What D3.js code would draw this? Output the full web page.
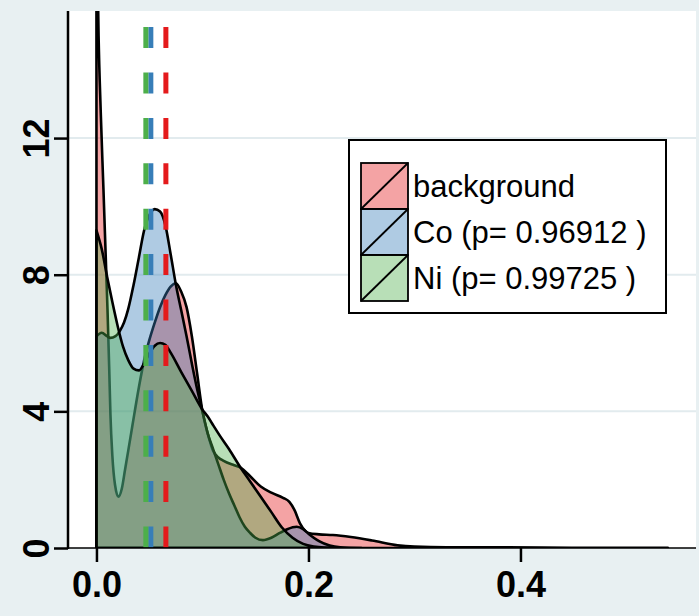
<!DOCTYPE html>
<html>
<head>
<meta charset="utf-8">
<script src="https://cdn.jsdelivr.net/npm/d3@7"></script>
<style>
  html, body { margin: 0; padding: 0; background: #e8f0f2; }
  svg { display: block; }
  text { font-family: "Liberation Sans", Arial, Helvetica, sans-serif; }
</style>
</head>
<body>
<script>
// ---- data ----
const seriesNames = ["background", "Co (p= 0.96912 )", "Ni (p= 0.99725 )"];
const seriesColors = ["#e41a1c", "#377eb8", "#4daf4a"];

const backgroundDensity = [
  [0, 19], [0.002, 15.0], [0.004, 12.8], [0.0066, 10.5], [0.009, 8.3], [0.0104, 7.0],
  [0.012, 5.3], [0.0132, 3.9], [0.015, 2.7], [0.0175, 1.85], [0.0207, 1.5], [0.024, 1.75],
  [0.027, 2.3], [0.03, 2.85], [0.034, 3.6], [0.04, 4.7], [0.045, 5.5], [0.05, 6.1],
  [0.055, 6.6], [0.06, 7.05], [0.065, 7.4], [0.07, 7.65], [0.075, 7.75], [0.08, 7.5],
  [0.085, 7.05], [0.09, 6.2], [0.095, 5.1], [0.1, 4.0], [0.105, 3.35], [0.11, 2.85],
  [0.115, 2.65], [0.12, 2.55], [0.13, 2.42], [0.136, 2.35], [0.145, 2.1], [0.155, 1.8],
  [0.165, 1.62], [0.176, 1.47], [0.182, 1.35], [0.187, 1.1], [0.192, 0.72], [0.197, 0.5],
  [0.2, 0.44], [0.21, 0.4], [0.223, 0.38], [0.24, 0.32], [0.26, 0.22], [0.284, 0.08],
  [0.3, 0.04], [0.33, 0.02], [0.38, 0.02], [0.45, 0.008], [0.539, 0.004]
];
const coDensity = [
  [0, 6.2], [0.005, 6.3], [0.01, 6.2], [0.013, 6.15], [0.018, 6.2], [0.022, 6.35],
  [0.026, 6.6], [0.03, 7.0], [0.035, 7.7], [0.04, 8.5], [0.045, 9.3], [0.05, 9.75],
  [0.055, 9.92], [0.06, 9.85], [0.065, 9.45], [0.07, 8.6], [0.075, 7.7], [0.08, 6.95],
  [0.085, 6.2], [0.09, 5.4], [0.095, 4.65], [0.1, 4.0], [0.105, 3.35], [0.11, 2.9],
  [0.115, 2.45], [0.12, 2.0], [0.125, 1.6], [0.13, 1.25], [0.135, 0.9], [0.14, 0.62],
  [0.145, 0.44], [0.15, 0.3], [0.157, 0.23], [0.165, 0.3], [0.173, 0.44], [0.18, 0.55],
  [0.189, 0.62], [0.195, 0.55], [0.2, 0.42], [0.21, 0.2], [0.22, 0.07], [0.23, 0.02], [0.25, 0]
];
const niDensity = [
  [0, 9.3], [0.005, 8.75], [0.01, 7.95], [0.015, 7.2], [0.02, 6.5], [0.025, 5.9],
  [0.03, 5.5], [0.035, 5.25], [0.04, 5.2], [0.045, 5.4], [0.05, 5.7], [0.055, 5.92],
  [0.06, 6.0], [0.065, 5.95], [0.07, 5.72], [0.08, 5.15], [0.09, 4.6], [0.1, 4.05],
  [0.105, 3.85], [0.11, 3.6], [0.117, 3.26], [0.125, 2.9], [0.136, 2.35], [0.145, 1.95],
  [0.155, 1.5], [0.165, 1.05], [0.175, 0.6], [0.185, 0.3], [0.195, 0.12], [0.205, 0.04],
  [0.215, 0.01], [0.23, 0]
];
const meanValues = [0.0655, 0.0513, 0.0466]; // background, Co, Ni
const xTicks = [0, 0.2, 0.4];
const yTicks = [0, 4, 8, 12];

// ---- layout ----
const W = 699, H = 616;
const plot = { left: 69, right: 696, top: 11, bottom: 548 };

const svg = d3.select("body").append("svg").attr("width", W).attr("height", H);
svg.append("rect").attr("width", W).attr("height", H).attr("fill", "#e8f0f2");
svg.append("rect").attr("x", plot.left).attr("y", plot.top)
  .attr("width", plot.right - plot.left).attr("height", plot.bottom - plot.top)
  .attr("fill", "#ffffff");

const x = d3.scaleLinear().domain([-0.0259, 0.5656]).range([plot.left, plot.right]);
const y = d3.scaleLinear().domain([0, 15.72]).range([plot.bottom, plot.top]);

// grid
svg.append("g").selectAll("line").data(yTicks.filter(d => d > 0)).join("line")
  .attr("x1", plot.left).attr("x2", plot.right)
  .attr("y1", d => y(d)).attr("y2", d => y(d))
  .attr("stroke", "#e2ebee").attr("stroke-width", 2);

// clip
svg.append("clipPath").attr("id", "clip").append("rect")
  .attr("x", plot.left).attr("y", plot.top)
  .attr("width", plot.right - plot.left).attr("height", plot.bottom - plot.top);

const area = d3.area()
  .x(d => x(d[0])).y0(y(0)).y1(d => y(d[1]))
  .curve(d3.curveMonotoneX);

const gAreas = svg.append("g").attr("clip-path", "url(#clip)");
[backgroundDensity, coDensity, niDensity].forEach((data, i) => {
  gAreas.append("path").datum(data)
    .attr("d", area)
    .attr("fill", seriesColors[i]).attr("fill-opacity", 0.4)
    .attr("stroke", "#000").attr("stroke-width", 2.6)
    .attr("stroke-linejoin", "round");
});

// mean lines
svg.append("g").selectAll("line").data(meanValues).join("line")
  .attr("x1", d => x(d)).attr("x2", d => x(d))
  .attr("y1", plot.bottom - 0.5).attr("y2", plot.top)
  .attr("stroke", (d, i) => seriesColors[i])
  .attr("stroke-width", 5)
  .attr("stroke-dasharray", "21,24.4");

// axes
const yAxis = svg.append("g").attr("transform", `translate(${plot.left - 1},0)`)
  .call(d3.axisLeft(y).tickValues(yTicks).tickSize(14).tickSizeOuter(0).tickFormat(d3.format("d")));
yAxis.select(".domain").attr("stroke", "#000").attr("stroke-width", 2.5)
  .attr("d", `M0,${plot.top}V${plot.bottom + 1}`);
yAxis.selectAll(".tick line").attr("stroke", "#000").attr("stroke-width", 2.5);
yAxis.selectAll(".tick text")
  .attr("x", 0).attr("y", -19).attr("dy", 0)
  .attr("transform", "rotate(-90)")
  .attr("text-anchor", "middle")
  .attr("fill", "#000")
  .style("font-size", "36px").style("font-weight", "bold")
  .style("font-family", '"Liberation Sans", Arial, sans-serif');

const xAxis = svg.append("g").attr("transform", `translate(0,${plot.bottom})`)
  .call(d3.axisBottom(x).tickValues(xTicks).tickSize(14).tickSizeOuter(0).tickFormat(d3.format(".1f")));
xAxis.select(".domain").attr("stroke", "#000").attr("stroke-width", 1.6)
  .attr("d", `M${plot.left - 2},0H${plot.right}`);
xAxis.selectAll(".tick line").attr("stroke", "#000").attr("stroke-width", 2.5);
xAxis.selectAll(".tick text")
  .attr("y", 49).attr("dy", 0)
  .attr("fill", "#000")
  .style("font-size", "36px").style("font-weight", "bold")
  .style("font-family", '"Liberation Sans", Arial, sans-serif');

// legend
const lg = svg.append("g");
lg.append("rect").attr("x", 349).attr("y", 140).attr("width", 317).attr("height", 173)
  .attr("fill", "#fff").attr("stroke", "#000").attr("stroke-width", 2);
const keyX = 361, keyW = 47, keyH = 46, keyY0 = 163;
seriesNames.forEach((name, i) => {
  const ky = keyY0 + i * keyH;
  lg.append("rect").attr("x", keyX).attr("y", ky).attr("width", keyW).attr("height", keyH)
    .attr("fill", seriesColors[i]).attr("fill-opacity", 0.4)
    .attr("stroke", "#000").attr("stroke-width", 1.8);
  lg.append("line").attr("x1", keyX).attr("y1", ky + keyH).attr("x2", keyX + keyW).attr("y2", ky)
    .attr("stroke", "#000").attr("stroke-width", 1.8);
  lg.append("text").attr("x", keyX + keyW + 5).attr("y", ky + 34)
    .attr("fill", "#000").style("font-size", "31px").text(name);
});
</script>
</body>
</html>
